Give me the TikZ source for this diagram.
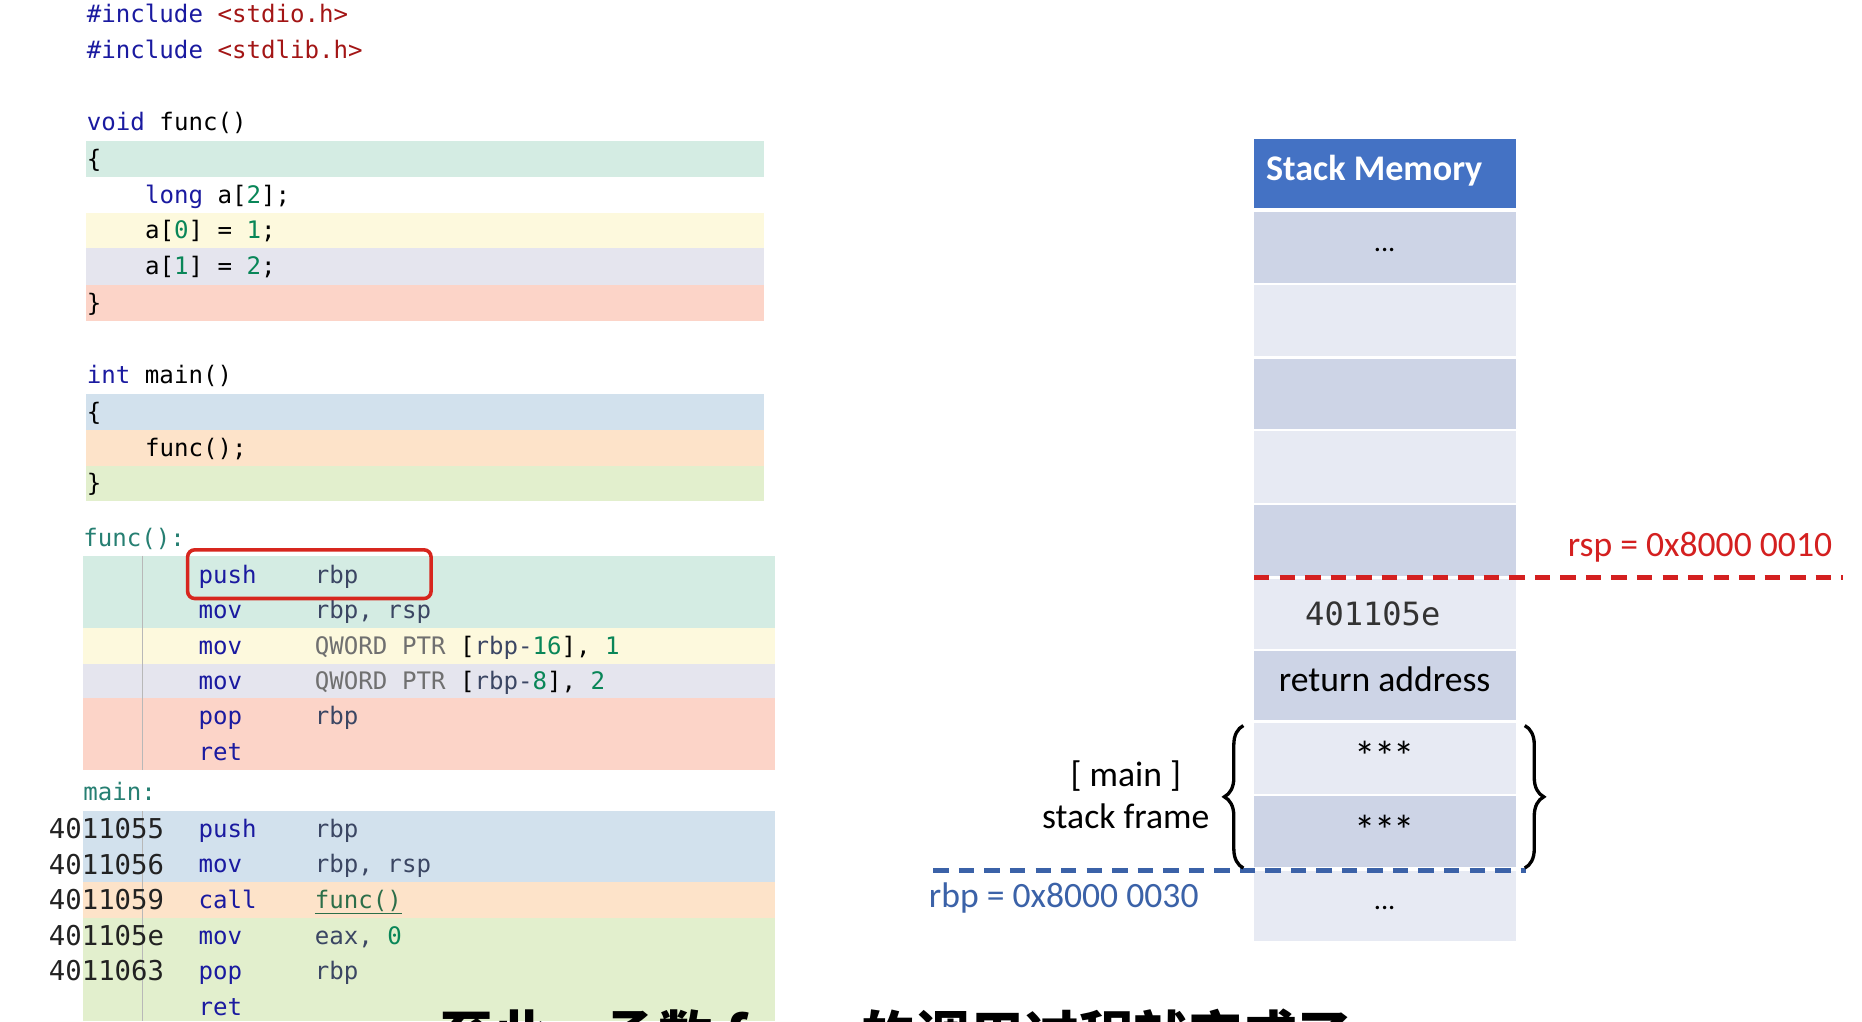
\documentclass[tikz,border=0pt]{standalone}
\usepackage{fontspec}
\setmonofont{DejaVu Sans Mono}
\newfontfamily\calfont{Carlito}
\newfontfamily\cjkfont{Noto Sans CJK SC}
\usetikzlibrary{decorations.pathreplacing}
\definecolor{kwc}{HTML}{1A1AA0}
\definecolor{strc}{HTML}{A31515}
\definecolor{numc}{HTML}{098658}
\definecolor{lblc}{HTML}{267F72}
\definecolor{regc}{HTML}{3B4663}
\definecolor{grc}{HTML}{707070}
\definecolor{fnc}{HTML}{2C6E49}
\definecolor{addrc}{HTML}{222222}
\definecolor{bgreen}{HTML}{D4ECE3}
\definecolor{byellow}{HTML}{FDF9DD}
\definecolor{blav}{HTML}{E5E5EE}
\definecolor{bsalmon}{HTML}{FCD4C8}
\definecolor{bblue}{HTML}{D2E1ED}
\definecolor{bpeach}{HTML}{FDE3C9}
\definecolor{blgreen}{HTML}{E2EFCD}
\definecolor{hdrc}{HTML}{4472C4}
\definecolor{celld}{HTML}{CDD4E6}
\definecolor{celll}{HTML}{E7EAF3}
\definecolor{rspc}{HTML}{D42020}
\definecolor{rbpc}{HTML}{3B62A8}
\definecolor{boxred}{HTML}{D7261E}
\newcommand\kw[1]{\textcolor{kwc}{#1}}
\newcommand\st[1]{\textcolor{strc}{#1}}
\newcommand\nm[1]{\textcolor{numc}{#1}}
\newcommand\rg[1]{\textcolor{regc}{#1}}
\newcommand\gy[1]{\textcolor{grc}{#1}}
\newcommand\stars{*\kern-1.5pt*\kern-1.5pt*}
\begin{document}
\begin{tikzpicture}[x=1pt,y=-1pt,
  code/.style={anchor=base west,inner sep=0pt,font=\ttfamily\fontsize{20.3}{24}\selectfont},
  addr/.style={anchor=base west,inner sep=0pt,text=addrc,font=\ttfamily\fontsize{23}{26}\selectfont},
  mnem/.style={code,text=kwc},
  cal/.style={inner sep=0pt,font=\calfont\fontsize{30}{34}\selectfont},
  cell/.style={anchor=north west,inner sep=0pt,minimum width=220pt},
  reddash/.style={draw=rspc,line width=4pt,dash pattern=on 13pt off 8.5pt},
  bluedash/.style={draw=rbpc,line width=4pt,dash pattern=on 13pt off 8.5pt},
  bracestyle/.style={draw=black,line width=2.8pt,decorate,decoration={brace,amplitude=16pt}}]
\useasboundingbox (0,0) rectangle (1568,860);
\clip (0,0) rectangle (1568,860);
\fill[white] (0,0) rectangle (1568,860);

% ---------- source code bands ----------
\fill[bgreen] (72,119) rectangle (643,149);
\fill[byellow] (72,179) rectangle (643,209);
\fill[blav] (72,209) rectangle (643,240);
\fill[bsalmon] (72,240) rectangle (643,270);
\fill[bblue] (72,332) rectangle (643,362);
\fill[bpeach] (72,362) rectangle (643,392);
\fill[blgreen] (72,392) rectangle (643,422);

% ---------- assembly bands ----------
\fill[bgreen] (70,468) rectangle (653,529);
\fill[byellow] (70,529) rectangle (653,559);
\fill[blav] (70,559) rectangle (653,588);
\fill[bsalmon] (70,588) rectangle (653,648);
\fill[bblue] (70,683) rectangle (653,743);
\fill[bpeach] (70,743) rectangle (653,773);
\fill[blgreen] (70,773) rectangle (653,860);
\draw[black!28,line width=1pt] (120,468) -- (120,648);
\draw[black!28,line width=1pt] (120,683) -- (120,860);

% ---------- source code ----------
\node[code] (c1) at (73,19) {\kw{\#include} \st{<stdio.h>}};
\node[code] (c2) at (73,49) {\kw{\#include} \st{<stdlib.h>}};
\node[code] (c3) at (73,110) {\kw{void} func()};
\node[code] (c4) at (73,141) {\{};
\node[code] (c5) at (122,171) {\kw{long} a[\nm{2}];};
\node[code] (c6) at (122,201) {a[\nm{0}] = \nm{1};};
\node[code] (c7) at (122,231) {a[\nm{1}] = \nm{2};};
\node[code] (c8) at (73,262) {\}};
\node[code] (c9) at (73,323) {\kw{int} main()};
\node[code] (c10) at (73,354) {\{};
\node[code] (c11) at (122,384) {func();};
\node[code] (c12) at (73,414) {\}};

% ---------- assembly: func ----------
\node[code,text=lblc] (fl) at (70,460) {func():};
\node[mnem] (f1m) at (167,491) {push};
\node[code] (f1o) at (265,491) {\rg{rbp}};
\node[mnem] (f2m) at (167,521) {mov};
\node[code] (f2o) at (265,521) {\rg{rbp, rsp}};
\node[mnem] (f3m) at (167,551) {mov};
\node[code] (f3o) at (265,551) {\gy{QWORD PTR} [\rg{rbp-}\nm{16}], \nm{1}};
\node[mnem] (f4m) at (167,581) {mov};
\node[code] (f4o) at (265,581) {\gy{QWORD PTR} [\rg{rbp-}\nm{8}], \nm{2}};
\node[mnem] (f5m) at (167,610) {pop};
\node[code] (f5o) at (265,610) {\rg{rbp}};
\node[mnem] (f6m) at (167,640) {ret};
\draw[boxred,line width=3pt,rounded corners=6pt] (158,463) rectangle (363,504);

% ---------- assembly: main ----------
\node[code,text=lblc] (ml) at (70,674) {main:};
\node[addr] (a1) at (41,706) {4011055};
\node[mnem] (m1m) at (167,705) {push};
\node[code] (m1o) at (265,705) {\rg{rbp}};
\node[addr] (a2) at (41,736) {4011056};
\node[mnem] (m2m) at (167,735) {mov};
\node[code] (m2o) at (265,735) {\rg{rbp, rsp}};
\node[addr] (a3) at (41,766) {4011059};
\node[mnem] (m3m) at (167,765) {call};
\node[code] (m3o) at (265,765) {\textcolor{fnc}{\underline{func()}}};
\node[addr] (a4) at (41,796) {401105e};
\node[mnem] (m4m) at (167,795) {mov};
\node[code] (m4o) at (265,795) {\rg{eax,} \nm{0}};
\node[addr] (a5) at (41,826) {4011063};
\node[mnem] (m5m) at (167,825) {pop};
\node[code] (m5o) at (265,825) {\rg{rbp}};
\node[mnem] (m6m) at (167,855) {ret};

% ---------- stack memory ----------
\node[cell,fill=hdrc,minimum height=58pt] (hdr) at (1056,117) {};
\node[cal,anchor=base west,text=white,font=\calfont\bfseries\fontsize{30.4}{34}\selectfont] (hdrt) at (1066,152) {Stack Memory};
\node[cell,fill=celld,minimum height=60pt] (s1) at (1056,178) {};
\node[cell,fill=celll,minimum height=60pt] (s2) at (1056,240) {};
\node[cell,fill=celld,minimum height=59pt] (s3) at (1056,302) {};
\node[cell,fill=celll,minimum height=60pt] (s4) at (1056,363) {};
\node[cell,fill=celld,minimum height=60pt] (s5) at (1056,425) {};
\node[cell,fill=celll,minimum height=59pt] (s6) at (1056,487) {};
\node[cell,fill=celld,minimum height=58pt] (s7) at (1056,548) {};
\node[cell,fill=celll,minimum height=59pt] (s8) at (1056,609) {};
\node[cell,fill=celld,minimum height=60pt] (s9) at (1056,670) {};
\node[cell,fill=celll,minimum height=59pt] (s10) at (1056,733) {};

\node[cal,anchor=base,font=\calfont\fontsize{24}{28}\selectfont] (d1) at (1166,212) {...};
\node[anchor=base,inner sep=0pt,text=black!80,font=\ttfamily\fontsize{27}{30}\selectfont] (ra) at (1156,527) {401105e};
\node[cal,anchor=base] (rt) at (1166,582) {return address};
\node[cal,anchor=base,font=\calfont\fontsize{36}{40}\selectfont] (st1) at (1166,650) {\stars};
\node[cal,anchor=base,font=\calfont\fontsize{36}{40}\selectfont] (st2) at (1166,712) {\stars};
\node[cal,anchor=base,font=\calfont\fontsize{24}{28}\selectfont] (d2) at (1166,766) {...};

% rsp line
\coordinate (rspL) at (1056,486);
\coordinate (rspR) at (1552,486);
\draw[reddash] (rspL) -- (rspR);
\node[cal,anchor=base east,text=rspc] (rspt) at (1543,469) {rsp = 0x8000 0010};

% rbp line
\coordinate (rbpL) at (786,733);
\coordinate (rbpR) at (1285,733);
\draw[bluedash] (rbpL) -- (rbpR);
\node[cal,anchor=base west,text=rbpc] (rbpt) at (782,764) {rbp = 0x8000 0030};

% braces
\coordinate (lbB) at (1047,731);
\coordinate (lbT) at (1047,611);
\coordinate (rbT) at (1284,611);
\coordinate (rbB) at (1284,731);
\draw[bracestyle] (lbB) -- (lbT);
\draw[bracestyle] (rbT) -- (rbB);
\node[cal,anchor=base] (mf1) at (948,662) {[ main ]};
\node[cal,anchor=base] (mf2) at (948,698) {stack frame};

% subtitle (cut off at the bottom edge, as in the reference)
\node[anchor=base west,inner sep=0pt,font=\cjkfont\bfseries\fontsize{46}{50}\selectfont] (sub) at (370,890) {至此，函数 func 的调用过程就完成了};
\end{tikzpicture}
\end{document}
